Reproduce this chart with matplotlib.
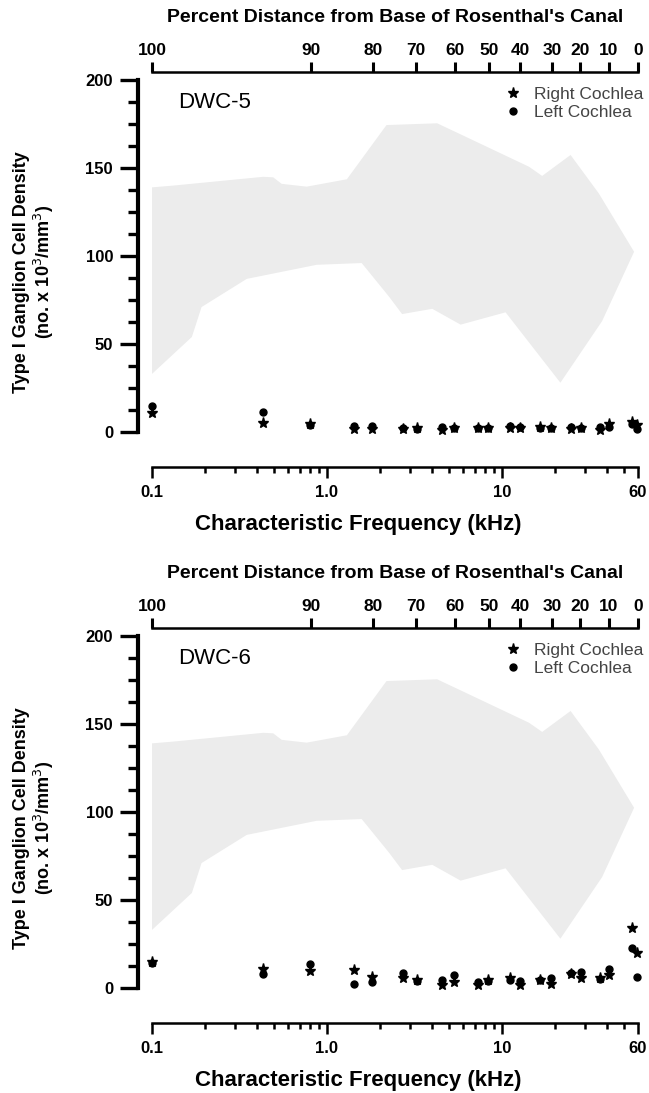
import numpy as np
import matplotlib
matplotlib.use("Agg")
import matplotlib.pyplot as plt
from matplotlib.ticker import FixedLocator, NullFormatter, NullLocator

plt.rcParams['font.family'] = ['Liberation Sans', 'DejaVu Sans']

# characteristic frequency (kHz) of each sampled point
freqs = [0.1, 0.43, 0.8, 1.43, 1.82, 2.72, 3.28, 4.56, 5.32, 7.32, 8.36,
         11.2, 12.7, 16.6, 19.2, 25.0, 28.2, 36.2, 40.9, 55.1, 59.0]

# DWC-5
right5 = [11, 5.3, 4.5, 1.5, 1.5, 1.5, 2.5, 1, 2.5, 2, 2,
          2, 2, 3, 2.5, 1.5, 2, 1, 4.5, 5.5, 4]
left5 = [15, 11.5, 4, 3.5, 3.5, 2.5, 1.5, 3, 2, 2, 2.5,
         3.5, 3, 2.5, 2.5, 3, 2.5, 3, 3, 4.5, 1.5]

# DWC-6
right6 = [14.5, 11, 9.5, 10.4, 6, 5.5, 4.7, 1.5, 3.6, 1.5, 4.7,
          5.5, 1.5, 4.7, 2.5, 8, 5.5, 5.9, 7.6, 34.2, 19.8]
left6 = [14, 7.8, 13.8, 2.5, 3.6, 8.5, 4.2, 4.4, 7.2, 3.6, 4,
         4.5, 4, 4.4, 5.9, 8.3, 9, 5.3, 11, 22.9, 6]

# normal range (gray band)
upper_f = [0.1, 0.132, 0.433, 0.493, 0.551, 0.766, 1.30, 2.19, 4.27, 14.3, 17.0, 24.7, 35.8, 57]
upper_v = [139, 140, 145, 144.7, 141, 139.4, 143.6, 174.4, 175.4, 150.7, 145.5, 157.4, 135.6, 102.4]
lower_f = [0.1, 0.169, 0.192, 0.348, 0.873, 1.58, 2.26, 2.69, 4.0, 5.81, 10.5, 21.6, 37.4, 57]
lower_v = [33, 54, 71, 87, 95, 96, 77, 67, 70, 61, 68, 28, 63, 102.4]

# top axis: percent distance from base
pct_labels = ['100', '90', '80', '70', '60', '50', '40', '30', '20', '10', '0']
pct_freq = [0.1, 0.808, 1.83, 3.21, 5.39, 8.43, 12.7, 19.3, 27.9, 40.9, 60]

panels = [('DWC-5', right5, left5), ('DWC-6', right6, left6)]

W, H = 649, 1093
fig = plt.figure(figsize=(W / 100, H / 100), dpi=100)

px = 72 / 100  # points per pixel


def make_panel(bottom_px, name, right, left):
    ax = fig.add_axes([152 / W, (H - bottom_px) / H, 486 / W, 352 / H])
    ax.set_xscale('log')
    ax.set_xlim(0.1, 60)
    ax.set_ylim(0, 200)

    band_x = np.concatenate([upper_f, lower_f[::-1]])
    band_y = np.concatenate([upper_v, lower_v[::-1]])
    ax.fill(band_x, band_y, color='#ececec', lw=0, zorder=1)

    ax.plot(freqs, left, 'o', color='black', ms=5, clip_on=False, zorder=3,
            label='Left Cochlea')
    ax.plot(freqs, right, '*', color='black', ms=8, clip_on=False, zorder=4,
            label='Right Cochlea')

    for s in ['top', 'right']:
        ax.spines[s].set_visible(False)
    ax.spines['left'].set_position(('outward', 14 * px))
    ax.spines['left'].set_linewidth(3)
    ax.spines['bottom'].set_position(('outward', 35 * px))
    ax.spines['bottom'].set_linewidth(1.8)

    ax.yaxis.set_major_locator(FixedLocator([0, 50, 100, 150, 200]))
    ax.yaxis.set_minor_locator(FixedLocator(np.arange(0, 200, 12.5)))
    ax.tick_params(axis='y', which='major', length=18 * px, width=2.4, pad=5,
                   labelsize=12)
    ax.tick_params(axis='y', which='minor', length=10 * px, width=2.4)

    ax.xaxis.set_major_locator(FixedLocator([0.1, 1, 10, 60]))
    ax.set_xticklabels(['0.1', '1.0', '10', '60'])
    minors = [m * d for d in (0.1, 1, 10) for m in range(2, 10)]
    minors = [m for m in minors if m < 60]
    ax.xaxis.set_minor_locator(FixedLocator(minors))
    ax.xaxis.set_minor_formatter(NullFormatter())
    ax.tick_params(axis='x', which='major', length=11 * px, width=1.8, pad=5,
                   labelsize=12)
    ax.tick_params(axis='x', which='minor', length=6 * px, width=1.8)
    for lab in ax.get_xticklabels() + ax.get_yticklabels():
        lab.set_fontweight('bold')

    ax.set_xlabel('Characteristic Frequency (kHz)', fontsize=16,
                  fontweight='bold', labelpad=10, x=0.424)
    ax.set_ylabel('Type I Ganglion Cell Density\n(no. x 10$^3$/mm$^3$)',
                  fontsize=13, fontweight='bold', labelpad=21,
                  linespacing=1.1, y=0.455)

    ax.text(0.054, 0.935, name, transform=ax.transAxes, fontsize=16,
            va='center', ha='left')

    h, l = ax.get_legend_handles_labels()
    leg = ax.legend(h[::-1], l[::-1], loc='upper right',
                    bbox_to_anchor=(1.025, 1.0), frameon=False, fontsize=12.5,
                    handletextpad=0.6, labelspacing=0.15, handlelength=1.2,
                    borderaxespad=0)
    for t in leg.get_texts():
        t.set_color('#444444')

    top = ax.twiny()
    top.set_xscale('log')
    top.set_xlim(0.1, 60)
    top.xaxis.set_major_locator(FixedLocator(pct_freq))
    top.set_xticklabels(pct_labels)
    top.xaxis.set_minor_locator(NullLocator())
    for s in ['left', 'right', 'bottom']:
        top.spines[s].set_visible(False)
    top.spines['top'].set_position(('outward', 8 * px))
    top.spines['top'].set_linewidth(1.8)
    top.tick_params(axis='x', which='major', direction='out', top=True,
                    bottom=False, length=10 * px, width=2.2, pad=3,
                    labelsize=12.5, color='black')
    for lab in top.get_xticklabels():
        lab.set_fontweight('bold')
    top.set_xlabel("Percent Distance from Base of Rosenthal's Canal",
                   fontsize=14, fontweight='bold', labelpad=15)
    return ax


for i, (name, right, left) in enumerate(panels):
    make_panel(432 + i * 556, name, right, left)

fig.savefig('out.png', dpi=100)
